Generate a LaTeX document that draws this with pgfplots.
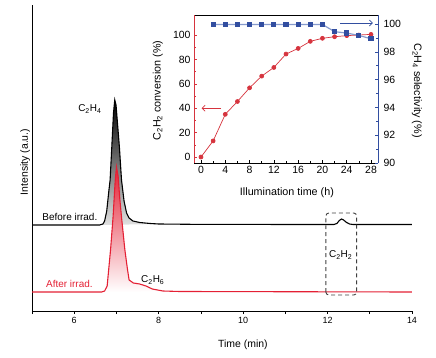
\documentclass[border=0pt]{standalone}
\usepackage{pgfplots}
\pgfplotsset{compat=1.18}
\usepackage{fontspec}
\setmainfont{Liberation Sans}
\usetikzlibrary{arrows.meta}
\definecolor{mred}{RGB}{228,32,52}
\definecolor{ired}{RGB}{214,52,62}
\definecolor{iblue}{RGB}{50,78,160}
\definecolor{iblueline}{RGB}{135,155,205}
\newcommand{\chem}[2]{C\textsubscript{#1}H\textsubscript{#2}}
\begin{document}
\begin{tikzpicture}
\path (-32bp,-47bp) rectangle (404bp,311bp);
\begin{axis}[
 at={(0,0)}, anchor=south west, scale only axis, width=380bp, height=306bp,
 xmin=5, xmax=14, ymin=0, ymax=306,
 axis x line*=bottom, axis y line*=left,
 axis line style={line width=0.8pt, -},
 ytick=\empty,
 xtick={6,8,10,12,14}, minor xtick={5,7,9,11,13},
 tick align=outside, major tick length=3bp, minor tick length=3bp,
 tick style={line width=0.7pt, black},
 /pgf/number format/assume math mode=true,
 tick label style={font=\fontsize{9}{11}\selectfont},
 xlabel={Time (min)}, ylabel={Intensity (a.u.)},
 every axis x label/.style={at={(axis description cs:0.555,-0.111)}, anchor=center, font=\fontsize{10.5}{12}\selectfont},
 every axis y label/.style={at={(axis description cs:-0.018,0.487)}, anchor=center, rotate=90, font=\fontsize{10.5}{12}\selectfont},
 clip=false,
]
% black peak fill
\addplot[draw=none, top color=black, bottom color=black!12] coordinates {
 (6.60,86) (6.68,87) (6.72,90) (6.77,100) (6.82,120) (6.85,131) (6.89,164) (6.93,198) (6.96,211)
 (6.99,206) (7.03,185) (7.07,164) (7.12,131) (7.18,110) (7.24,98) (7.30,93) (7.39,90) (7.55,88.5) (7.80,87.5) (8.0,87)
} -- cycle;
% black line
\addplot[black, line width=1.1pt] coordinates {
 (5.0,86) (6.60,86) (6.68,87) (6.72,90) (6.77,100) (6.82,120) (6.85,131) (6.89,164) (6.93,198) (6.96,211)
 (6.99,206) (7.03,185) (7.07,164) (7.12,131) (7.18,110) (7.24,98) (7.30,93) (7.39,90) (7.55,88.5) (7.80,87.5) (8.0,87)
 (9.0,86.6) (12.15,86.5) (12.22,87.5) (12.28,90.5) (12.33,92) (12.38,91) (12.45,88.5) (12.52,87) (12.6,86.5) (14,86.5)
};
% red peak fill
\addplot[draw=none, top color=mred, bottom color=white] coordinates {
 (6.65,19) (6.72,20) (6.78,25) (6.86,61) (6.92,94) (6.97,130) (7.00,144) (7.04,135) (7.08,112) (7.12,94)
 (7.20,61) (7.26,42) (7.30,31) (7.40,28) (7.55,27) (7.70,25) (7.85,22) (8.1,20) (8.5,19.5)
} -- cycle;
% red line
\addplot[mred, line width=1.1pt] coordinates {
 (5.0,19) (6.65,19) (6.72,20) (6.78,25) (6.86,61) (6.92,94) (6.97,130) (7.00,144) (7.04,135) (7.08,112) (7.12,94)
 (7.20,61) (7.26,42) (7.30,31) (7.40,28) (7.55,27) (7.70,25) (7.85,22) (8.1,20) (8.5,19.5) (14,19)
};
\draw[black!75, dashed, line width=0.9pt, dash pattern=on 4pt off 3pt, rounded corners=3pt]
 (axis cs:11.96,16) rectangle (axis cs:12.69,98);
\node[font=\fontsize{10}{12}\selectfont] at (axis cs:6.37,202) {\chem{2}{4}};
\node[font=\fontsize{10}{12}\selectfont, anchor=east] at (axis cs:6.63,94) {Before irrad.};
\node[font=\fontsize{10}{12}\selectfont, anchor=east, text=mred] at (axis cs:6.52,27) {After irrad.};
\node[font=\fontsize{10}{12}\selectfont] at (axis cs:7.86,31) {\chem{2}{6}};
\node[font=\fontsize{10}{12}\selectfont] at (axis cs:12.31,56) {\chem{2}{2}};
\end{axis}

\begin{axis}[
 at={(162bp,148bp)}, anchor=south west, scale only axis, width=184bp, height=148bp,
 xmin=-1.15, xmax=29.15, ymin=-4.9, ymax=116.4,
 separate axis lines,
 x axis line style={black, line width=0.7pt},
 y axis line style={ired, line width=0.7pt},
 xtick={0,4,...,28}, minor xtick={2,6,...,26},
 ytick={0,20,...,100}, minor ytick={10,30,...,90},
 xtick pos=lower, ytick pos=left,
 tick align=inside, major tick length=3bp, minor tick length=2bp,
 x tick style={black, line width=0.6pt}, y tick style={ired, line width=0.6pt},
 /pgf/number format/assume math mode=true,
 tick label style={font=\fontsize{10.5}{12}\selectfont},
 xlabel={Illumination time (h)}, ylabel={\chem{2}{2} conversion (\%)},
 every axis x label/.style={at={(axis description cs:0.505,-0.203)}, anchor=center, font=\fontsize{10.8}{12}\selectfont},
 every axis y label/.style={at={(axis description cs:-0.196,0.49)}, anchor=center, rotate=90, font=\fontsize{10.8}{12}\selectfont},
 clip=false,
]
\addplot[ired, line width=0.7pt, mark=*, mark size=2pt, mark options={fill=ired}] coordinates {
 (0,0) (2,13.2) (4,35) (6,45.5) (8,56.7) (10,66.3) (12,73.4) (14,84.4) (16,89) (18,94.8) (20,97.3) (22,98.6) (24,99.5) (26,100) (28,100.5)
};
\draw[ired, line width=0.7pt, -{Straight Barb[length=3pt]}] (axis cs:3.3,40) -- (axis cs:0.1,40);
\end{axis}

\begin{axis}[
 at={(162bp,148bp)}, anchor=south west, scale only axis, width=184bp, height=148bp,
 xmin=-1.15, xmax=29.15, ymin=90, ymax=100.65,
 axis x line=none, axis y line*=right,
 y axis line style={iblue, line width=0.7pt, -},
 ytick={90,92,...,100}, minor ytick={91,93,...,99},
 tick align=inside, major tick length=3bp, minor tick length=2bp,
 y tick style={iblue, line width=0.6pt},
 /pgf/number format/assume math mode=true,
 tick label style={font=\fontsize{10.5}{12}\selectfont},
 yticklabel style={xshift=2bp},
 ylabel={\chem{2}{4} selectivity (\%)},
 every axis y label/.style={at={(axis description cs:1.212,0.49)}, anchor=center, rotate=-90, font=\fontsize{10.8}{12}\selectfont},
 clip=false,
]
\addplot[iblueline, line width=1.2pt, mark=square*, mark size=2pt, mark options={iblue, fill=iblue}] coordinates {
 (2,99.97) (4,99.97) (6,99.97) (8,99.97) (10,99.97) (12,99.97) (14,99.97) (16,99.97) (18,99.97) (20,99.97)
 (22,99.45) (24,99.35) (26,99.18) (28,98.94)
};
\draw[iblue, line width=0.7pt, -{Straight Barb[length=3pt]}] (axis cs:22.9,100.07) -- (axis cs:28.3,100.07);
\end{axis}
\end{tikzpicture}
\end{document}
